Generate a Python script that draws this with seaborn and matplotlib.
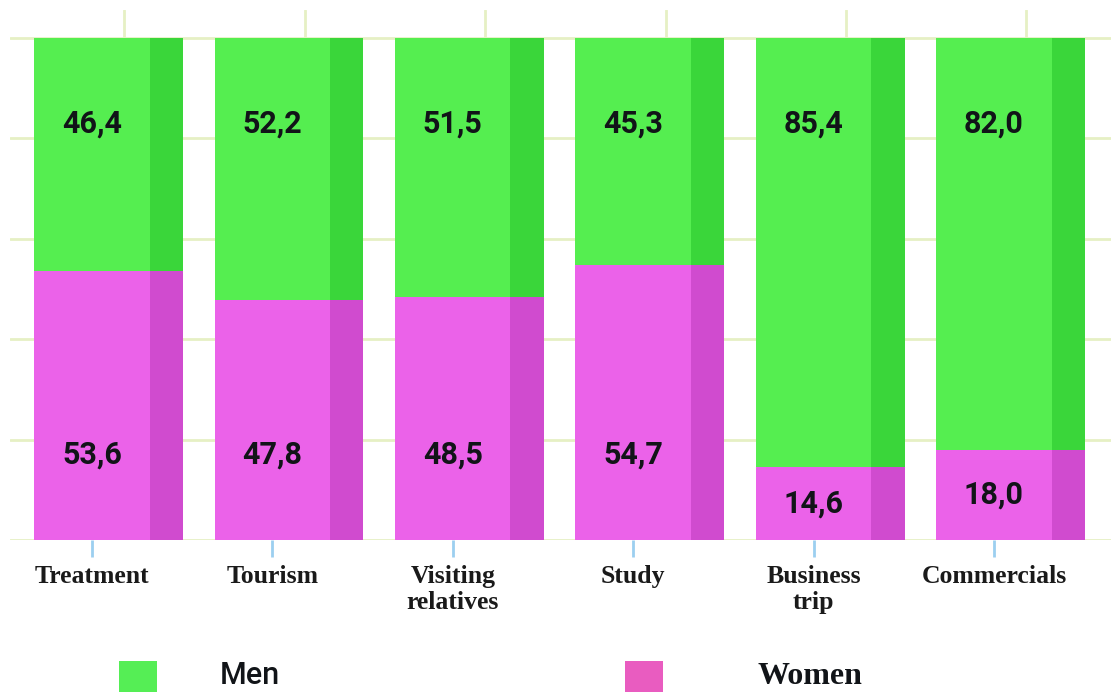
import numpy as np
import pandas as pd
import matplotlib
matplotlib.use('Agg')
import matplotlib.pyplot as plt
import seaborn as sns
from matplotlib.patches import Rectangle

# Data
categories = ['Treatment', 'Tourism', 'Visiting\nrelatives', 'Study', 'Business\ntrip', 'Commercials']
women = [53.6, 47.8, 48.5, 54.7, 14.6, 18.0]
men = [46.4, 52.2, 51.5, 45.3, 85.4, 82.0]

# Colours
green_front = '#55EE50'
green_side = '#3AD63A'
pink_front = '#EB62E9'
pink_side = '#D04BCF'
grid_col = '#E6F0C4'

df = pd.DataFrame({'category': categories, 'Women': women, 'Men': men})
df['Total'] = df['Women'] + df['Men']

sns.set_style('white')
plt.rcParams['font.family'] = ['Roboto', 'DejaVu Sans']

fig = plt.figure(figsize=(11.11, 6.92), dpi=100)
ax = fig.add_axes([10 / 1111, (692 - 540) / 692, 1101 / 1111, 530 / 692])

bar_w = 0.64
depth = 0.185

# front faces: total (men on top) then women over it
sns.barplot(data=df, x='category', y='Total', color=green_front, width=bar_w,
            saturation=1, ax=ax, zorder=3, linewidth=0)
sns.barplot(data=df, x='category', y='Women', color=pink_front, width=bar_w,
            saturation=1, ax=ax, zorder=3, linewidth=0)

# side faces built from the bar geometry
for i, (w, m) in enumerate(zip(women, men)):
    x0 = i + bar_w / 2
    ax.add_patch(Rectangle((x0, 0), depth, w, facecolor=pink_side, lw=0, zorder=3))
    ax.add_patch(Rectangle((x0, w), depth, m, facecolor=green_side, lw=0, zorder=3))

# value labels
for i, (w, m) in enumerate(zip(women, men)):
    yw = min(w / 2, 17)
    ym = w + m - min(m / 2, 17)
    ax.text(i, yw, f'{w:.1f}'.replace('.', ','), ha='center', va='center',
            fontsize=22, fontweight='bold', color='#111418', zorder=5)
    ax.text(i, ym, f'{m:.1f}'.replace('.', ','), ha='center', va='center',
            fontsize=22, fontweight='bold', color='#111418', zorder=5)

# back grid
for yv in range(0, 101, 20):
    ax.axhline(yv, color=grid_col, lw=2, zorder=1)
for i in range(len(categories)):
    ax.axvline(i + 0.18, ymin=0, ymax=1, color=grid_col, lw=2, zorder=1)

ax.set_xlim(-0.4545, 5.649)
ax.set_ylim(0, 105.6)
ax.set_yticks([])
ax.set_xlabel('')
ax.set_ylabel('')
ax.set_xticks(range(len(categories)))
ax.set_xticklabels(categories, family=['Liberation Serif', 'DejaVu Serif'],
                   fontsize=18.5, fontweight='bold', color='#1a1a1a', linespacing=1.15)
ax.tick_params(axis='x', length=12, width=2, color='#9CCFF0', pad=6, bottom=True)
for s in ax.spines.values():
    s.set_visible(False)

# legend at the bottom
fig.add_artist(Rectangle((119 / 1111, 0), 38 / 1111, 31 / 692,
                         transform=fig.transFigure, facecolor='#55EE55', lw=0))
fig.add_artist(Rectangle((625 / 1111, 0), 38 / 1111, 31 / 692,
                         transform=fig.transFigure, facecolor='#E95CC0', lw=0))
fig.text(220 / 1111, 16 / 692, 'Men', fontsize=22, fontweight='medium',
         family=['Roboto', 'DejaVu Sans'], color='#111418', va='center')
fig.text(757 / 1111, 16 / 692, 'Women', fontsize=23, fontweight='bold',
         family=['Liberation Serif', 'DejaVu Serif'], color='#111418', va='center')

fig.savefig('out.png', dpi=100)
